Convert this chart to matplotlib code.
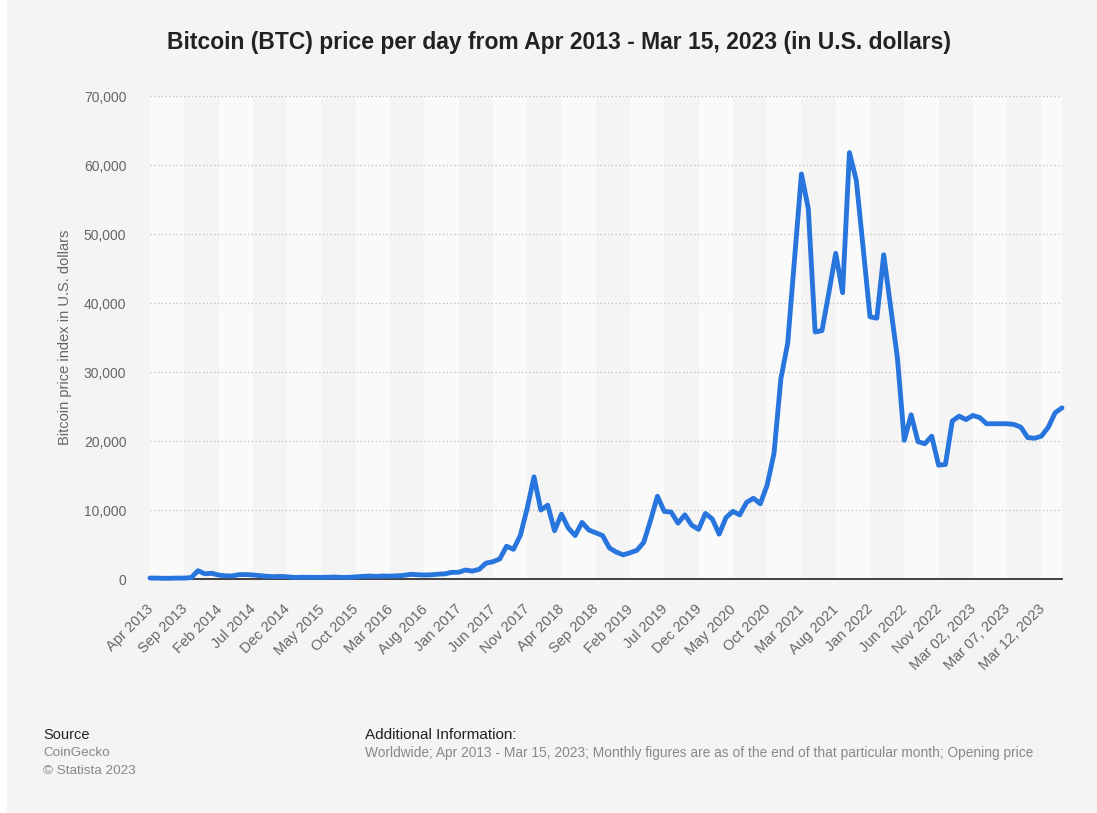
import numpy as np
import matplotlib
matplotlib.use('Agg')
import matplotlib.pyplot as plt
from matplotlib.patches import Rectangle
from matplotlib.ticker import FuncFormatter
from matplotlib.transforms import ScaledTranslation

plt.rcParams['font.family'] = ['Liberation Sans', 'DejaVu Sans']

# monthly values Apr 2013 - Feb 2023, then daily Mar 01 - Mar 15, 2023
prices = [
    139, 129, 97, 106, 135, 133, 198, 1200, 754, 830,          # Apr 2013 - Jan 2014
    570, 460, 445, 630, 640, 585, 480, 390, 338, 378,          # Feb 2014 - Nov 2014
    320, 218, 254, 245, 236, 230, 263, 284, 230, 236,          # Dec 2014 - Sep 2015
    314, 377, 430, 369, 437, 416, 448, 531, 673, 624,          # Oct 2015 - Jul 2016
    575, 609, 698, 742, 963, 970, 1300, 1150, 1400, 2300,      # Aug 2016 - May 2017
    2500, 2900, 4750, 4300, 6300, 10200, 14800, 10000, 10700, 7000,   # Jun 2017 - Mar 2018
    9400, 7400, 6300, 8200, 7100, 6700, 6300, 4500, 3900, 3500,       # Apr 2018 - Jan 2019
    3800, 4150, 5300, 8500, 12000, 9800, 9700, 8100, 9300, 7800,      # Feb 2019 - Nov 2019
    7200, 9500, 8700, 6500, 8900, 9800, 9300, 11100, 11700, 10900,    # Dec 2019 - Sep 2020
    13600, 18200, 29000, 34200, 46500, 58700, 53700, 35800, 36000, 41500,  # Oct 2020 - Jul 2021
    47200, 41500, 61800, 57800, 48000, 38000, 37800, 47000, 39500, 32000,  # Aug 2021 - May 2022
    20100, 23800, 19900, 19600, 20700, 16500, 16600, 22900, 23600,         # Jun 2022 - Feb 2023
    23100, 23700, 23400, 22500, 22500, 22500, 22500, 22400, 22000, 20500,  # Mar 01 - Mar 10, 2023
    20400, 20700, 22000, 24100, 24800,                                     # Mar 11 - Mar 15, 2023
]

tick_labels = [
    'Apr 2013', 'Sep 2013', 'Feb 2014', 'Jul 2014', 'Dec 2014', 'May 2015',
    'Oct 2015', 'Mar 2016', 'Aug 2016', 'Jan 2017', 'Jun 2017', 'Nov 2017',
    'Apr 2018', 'Sep 2018', 'Feb 2019', 'Jul 2019', 'Dec 2019', 'May 2020',
    'Oct 2020', 'Mar 2021', 'Aug 2021', 'Jan 2022', 'Jun 2022', 'Nov 2022',
    'Mar 02, 2023', 'Mar 07, 2023', 'Mar 12, 2023',
]

x = np.arange(len(prices))

W, H = 1097, 813
fig = plt.figure(figsize=(W / 100, H / 100), dpi=100, facecolor='white')
fig.patches.append(Rectangle((7 / W, 2 / H), 1 - 7 / W, 1 - 2 / H,
                             transform=fig.transFigure, color='#f4f4f4', zorder=-10))

ax = fig.add_axes([150 / W, 1 - 579 / H, 912 / W, 483 / H])
ax.set_facecolor('#f4f4f4')

# alternating light bands every 5 points
for start in range(0, len(prices) + 5, 10):
    ax.axvspan(start, start + 5, color='#fafafa', lw=0, zorder=0)

ax.plot(x, prices, color='#2876dd', lw=3.5, solid_joinstyle='round',
        solid_capstyle='round', zorder=4, clip_on=False)

ax.set_xlim(0, len(prices) - 1)
ax.set_ylim(0, 70000)
ax.set_yticks(range(0, 70001, 10000))
ax.yaxis.set_major_formatter(FuncFormatter(lambda v, p: f'{v:,.0f}'))
ax.grid(axis='y', linestyle=(0, (1, 2)), color='#bdbdbd', lw=0.9)
ax.set_axisbelow(True)

ax.set_xticks(x[::5])
ax.set_xticklabels(tick_labels, rotation=45, ha='right', rotation_mode='anchor')
ax.tick_params(axis='x', length=0, pad=8, labelsize=10.5, labelcolor='#666666')
ax.tick_params(axis='y', length=0, pad=17, labelsize=10, labelcolor='#666666')
shift = ScaledTranslation(-0.04, -0.12, fig.dpi_scale_trans)
for lab in ax.get_xticklabels():
    lab.set_transform(lab.get_transform() + shift)

for s in ['top', 'right', 'left']:
    ax.spines[s].set_visible(False)
ax.spines['bottom'].set_color('#333333')
ax.spines['bottom'].set_linewidth(1.3)
ax.spines['bottom'].set_zorder(3)

fig.text(65.5 / W, 1 - 337 / H, 'Bitcoin price index in U.S. dollars', rotation=90,
         ha='center', va='center', fontsize=10.5, color='#666666')

fig.text(559 / W, 1 - 42 / H,
         'Bitcoin (BTC) price per day from Apr 2013 - Mar 15, 2023 (in U.S. dollars)',
         ha='center', va='center', fontsize=16.5, fontweight='bold', color='#222222')

fig.text(43 / W, 1 - 735 / H, 'Source', ha='left', va='center', fontsize=10.5, color='#222222')
fig.text(43 / W, 1 - 753 / H, 'CoinGecko', ha='left', va='center', fontsize=9.7, color='#888888')
fig.text(43 / W, 1 - 771 / H, '© Statista 2023', ha='left', va='center', fontsize=9.7, color='#888888')
fig.text(365 / W, 1 - 735 / H, 'Additional Information:', ha='left', va='center',
         fontsize=11, color='#222222')
fig.text(365 / W, 1 - 753 / H,
         'Worldwide; Apr 2013 - Mar 15, 2023; Monthly figures are as of the end of that '
         'particular month; Opening price',
         ha='left', va='center', fontsize=9.9, color='#888888')

fig.savefig('out.png', dpi=100, facecolor=fig.get_facecolor())
